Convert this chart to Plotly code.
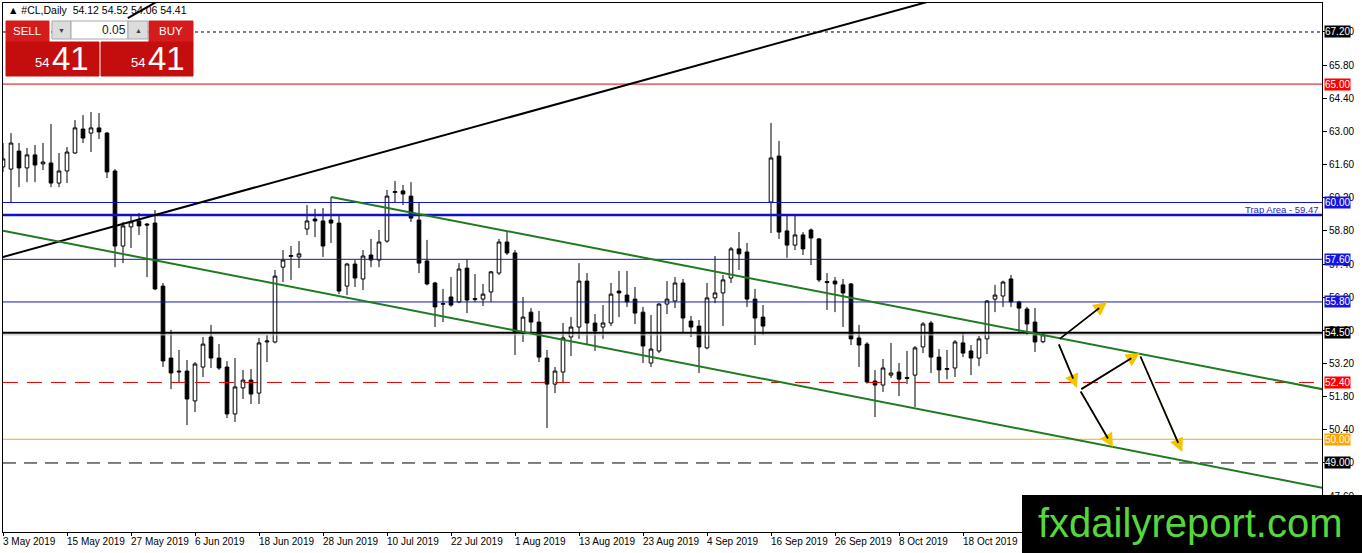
import plotly.graph_objects as go

# daily bars of #CL from 3 May 2019 (one slot per trading day)
opens = [61.50, 61.41, 62.17, 61.46, 62.01, 61.63, 61.67, 60.82, 61.33, 62.09,
         63.10, 62.93, 63.15, 62.93, 61.33, 58.16, 58.97, 59.22, 59.09, 59.13,
         56.47, 53.43, 52.88, 52.88, 51.62, 53.05, 54.32, 53.43, 53.05, 51.07,
         52.17, 52.50, 51.95, 54.11, 54.11, 57.27, 57.72, 57.70, 58.88, 59.30,
         59.22, 59.26, 59.13, 56.47, 57.40, 56.77, 57.78, 57.57, 58.37, 60.42,
         60.49, 60.27, 59.26, 57.53, 56.60, 55.70, 56.01, 55.80, 57.23, 55.90,
         55.92, 56.22, 57.02, 58.33, 57.87, 54.49, 55.37, 54.95, 53.43, 52.33,
         52.84, 54.32, 54.74, 56.68, 54.91, 54.74, 54.91, 56.26, 56.09, 55.92,
         55.37, 53.22, 53.73, 55.71, 55.84, 56.60, 54.99, 54.78, 53.86, 55.97,
         56.18, 56.81, 58.04, 57.91, 55.92, 55.16, 60.02, 61.96, 58.80, 58.20,
         58.63, 58.84, 58.46, 56.66, 56.68, 56.52, 56.56, 54.28, 54.02, 52.46,
         52.29, 52.71, 52.84, 52.61, 52.71, 53.90, 54.91, 53.47, 52.95, 53.01,
         54.07, 53.73, 53.43, 54.24, 55.92, 56.05, 56.77, 55.80, 55.50, 54.95,
         54.12]
highs = [62.51, 62.93, 62.51, 62.30, 62.43, 62.51, 63.31, 62.09, 62.34, 63.48,
         63.69, 63.82, 63.78, 62.98, 61.41, 59.18, 59.47, 59.56, 59.13, 59.68,
         56.60, 54.62, 53.77, 53.35, 53.26, 54.32, 54.83, 54.02, 53.30, 53.43,
         52.93, 52.97, 54.28, 54.40, 57.15, 57.99, 58.16, 58.37, 59.89, 59.73,
         59.77, 60.23, 59.47, 57.45, 57.57, 57.99, 58.46, 58.84, 60.53, 60.91,
         60.74, 60.86, 60.02, 58.42, 56.65, 56.35, 56.85, 57.44, 57.61, 56.98,
         56.56, 57.11, 58.46, 58.75, 57.99, 56.01, 55.54, 55.42, 53.77, 53.05,
         54.91, 55.16, 57.44, 57.02, 55.29, 55.67, 56.60, 57.11, 57.11, 56.43,
         55.59, 55.25, 55.75, 56.68, 56.85, 56.77, 55.21, 55.04, 56.60, 57.74,
         56.94, 58.12, 58.75, 58.29, 56.35, 55.67, 63.36, 62.60, 59.43, 59.43,
         58.75, 58.90, 58.50, 57.02, 56.85, 56.77, 56.60, 54.83, 54.10, 52.93,
         53.39, 54.07, 53.22, 53.73, 53.94, 54.95, 55.00, 53.81, 53.77, 54.19,
         54.53, 53.98, 54.36, 55.88, 56.52, 56.70, 56.94, 55.85, 55.59, 55.54,
         54.52]
lows = [61.29, 60.02, 60.65, 60.86, 60.86, 61.37, 60.65, 60.65, 60.82, 62.05,
        62.51, 62.13, 62.68, 61.03, 57.27, 57.44, 58.08, 58.63, 56.85, 56.30,
        53.05, 52.12, 52.42, 50.60, 51.15, 52.63, 53.01, 52.93, 50.90, 50.73,
        51.70, 51.49, 51.49, 53.26, 54.05, 56.64, 56.73, 57.23, 58.63, 58.54,
        57.70, 58.29, 56.13, 56.09, 56.43, 56.30, 57.27, 57.27, 58.30, 59.98,
        59.89, 59.18, 57.02, 56.50, 54.74, 54.95, 55.60, 55.75, 55.33, 55.80,
        55.63, 55.80, 56.94, 57.78, 53.56, 54.11, 54.49, 53.26, 50.48, 51.95,
        52.37, 53.52, 54.24, 54.02, 53.73, 54.24, 54.78, 55.16, 55.59, 54.87,
        53.22, 53.05, 53.64, 55.29, 55.54, 54.49, 54.32, 52.80, 53.80, 55.75,
        54.78, 56.60, 57.15, 55.59, 53.98, 54.40, 58.71, 58.46, 57.66, 57.99,
        57.78, 57.36, 56.64, 55.46, 55.37, 54.74, 53.98, 53.05, 52.35, 50.94,
        52.00, 52.59, 51.83, 52.33, 51.36, 53.64, 52.80, 52.37, 52.54, 52.63,
        53.47, 52.71, 53.09, 53.60, 55.37, 55.59, 55.59, 54.53, 54.40, 53.69,
        54.06]
closes = [61.84, 62.51, 61.46, 62.01, 61.58, 61.71, 60.82, 61.33, 62.13, 63.15,
          62.72, 63.15, 62.98, 61.29, 58.16, 59.01, 59.18, 59.01, 59.05, 56.35,
          53.31, 52.80, 52.85, 51.70, 53.18, 54.02, 53.43, 53.01, 51.07, 52.21,
          52.50, 51.91, 54.07, 54.15, 56.89, 57.57, 57.76, 57.83, 59.22, 59.22,
          58.16, 59.13, 56.26, 57.40, 56.81, 57.74, 57.57, 58.33, 60.27, 60.46,
          60.36, 59.34, 57.44, 56.56, 55.59, 55.73, 55.67, 57.19, 55.88, 55.94,
          56.13, 57.07, 58.33, 57.87, 54.53, 55.16, 54.95, 53.47, 52.33, 52.88,
          54.28, 54.74, 56.68, 54.91, 54.57, 54.91, 56.13, 56.18, 55.80, 55.33,
          53.94, 53.81, 55.71, 55.92, 56.60, 55.12, 54.74, 53.90, 55.97, 56.18,
          56.73, 58.04, 57.83, 55.92, 55.12, 54.78, 61.88, 58.75, 58.20, 58.63,
          58.04, 58.50, 56.73, 56.62, 56.56, 56.18, 54.24, 53.98, 52.42, 52.29,
          53.01, 52.80, 52.54, 52.57, 53.86, 54.87, 53.47, 52.93, 52.99, 54.11,
          53.64, 53.43, 54.24, 55.84, 56.09, 56.64, 55.80, 55.54, 54.87, 54.11,
          54.41]
bar_x = list(range(len(opens)))

date_ticks = [0, 8, 16, 24, 32, 40, 48, 56, 64, 72, 80, 88, 96, 104, 112, 120, 128]
date_labels = ["3 May 2019", "15 May 2019", "27 May 2019", "6 Jun 2019", "18 Jun 2019",
               "28 Jun 2019", "10 Jul 2019", "22 Jul 2019", "1 Aug 2019", "13 Aug 2019",
               "23 Aug 2019", "4 Sep 2019", "16 Sep 2019", "26 Sep 2019", "8 Oct 2019",
               "18 Oct 2019"]

price_ticks = [47.60, 49.00, 50.40, 51.80, 53.20, 54.60, 56.00, 57.40, 58.80,
               60.20, 61.60, 63.00, 64.40, 65.80, 67.20]

# horizontal levels drawn across the chart
levels = [67.20, 65.00, 60.00, 59.47, 57.60, 55.80, 54.50, 54.41, 52.40, 50.00, 49.00]
level_colors = ["black", "#E00000", "#1010C8", "#1010D0", "#1010C8", "#1010C8",
                "black", "#C0C0C0", "#E00000", "#F2B000", "black"]
level_widths = [1, 1, 1, 2.5, 1, 1, 2, 1, 1, 1, 1]
level_dash = ["3px,3px", "solid", "solid", "solid", "solid", "solid",
              "solid", "solid", "15px,9px", "solid", "13px,8px"]

# coloured price tags on the right axis
tag_values = [67.20, 65.00, 60.00, 57.60, 55.80, 54.50, 52.40, 50.00, 49.00]
tag_colors = ["black", "#FF0000", "#1515E0", "#1515E0", "#1515E0", "black",
              "#FF0000", "#FFA500", "black"]

# trend lines: (bar index, price)
black_trend_x = [0, 125]
black_trend_y = [57.70, 69.35]
black_short_x = [15.6, 19.6]
black_short_y = [67.79, 68.55]
green_upper_x = [41, 165]
green_upper_y = [60.23, 52.11]
green_lower_x = [0, 165]
green_lower_y = [58.81, 47.95]

# scenario arrows
arrow_tail_x = [131.9, 131.9, 134.6, 134.6, 142.1]
arrow_tail_y = [54.19, 54.07, 52.08, 52.08, 53.56]
arrow_tip_x = [138.0, 134.25, 142.1, 138.75, 147.4]
arrow_tip_y = [55.80, 52.17, 53.64, 49.67, 49.46]

FONT = "Liberation Sans"
W, H = 1362, 553
ML, MR, MT, MB = 3, 40, 3, 21
PW, PH = W - ML - MR, H - MT - MB


def pxx(x):
    return (x - ML) / PW


def pxy(y):
    return (H - MB - y) / PH


fig = go.Figure()
fig.add_trace(go.Candlestick(
    x=bar_x, open=opens, high=highs, low=lows, close=closes,
    increasing=dict(line=dict(color="black", width=1), fillcolor="white"),
    decreasing=dict(line=dict(color="black", width=1), fillcolor="black"),
    whiskerwidth=0, hoverinfo="skip", showlegend=False,
))

shapes = []
for v, c, w, d in zip(levels, level_colors, level_widths, level_dash):
    shapes.append(dict(type="line", xref="paper", yref="y", x0=0, x1=1, y0=v, y1=v,
                       line=dict(color=c, width=w, dash=d), layer="above"))

for xs, ys, c in [(black_trend_x, black_trend_y, "black"),
                  (black_short_x, black_short_y, "black"),
                  (green_upper_x, green_upper_y, "#1E7B1E"),
                  (green_lower_x, green_lower_y, "#1E7B1E")]:
    shapes.append(dict(type="line", xref="x", yref="y", x0=xs[0], x1=xs[1],
                       y0=ys[0], y1=ys[1], line=dict(color=c, width=2), layer="above"))

# watermark box
shapes.append(dict(type="rect", xref="paper", yref="paper", x0=pxx(1022), x1=pxx(1362),
                   y0=pxy(553), y1=pxy(495), fillcolor="black", line=dict(width=0),
                   layer="above"))

# one-click trading panel
panel = [
    (6, 21, 49, 42, "#D51C1C", "#D51C1C"),
    (149, 21, 193, 42, "#D51C1C", "#D51C1C"),
    (6, 42, 99, 76, "#C40E0E", "#C40E0E"),
    (101, 42, 193, 76, "#C40E0E", "#C40E0E"),
    (52, 21, 71, 39, "#DCDCDC", "#A8A8A8"),
    (71, 21, 128, 39, "white", "#A8A8A8"),
    (128, 21, 148, 39, "#DCDCDC", "#A8A8A8"),
]
for x0, y0, x1, y1, fc, lc in panel:
    shapes.append(dict(type="rect", xref="paper", yref="paper", x0=pxx(x0), x1=pxx(x1),
                       y0=pxy(y1), y1=pxy(y0), fillcolor=fc, line=dict(color=lc, width=1),
                       layer="above"))

ann = []
for v, c in zip(tag_values, tag_colors):
    ann.append(dict(xref="paper", yref="y", x=1, y=v, xanchor="left", yanchor="middle",
                    xshift=2, text=f"{v:.2f}", showarrow=False, bgcolor=c, borderpad=0,
                    font=dict(family=FONT, size=10, color="white")))

ann.append(dict(xref="paper", yref="y", x=1, y=59.47, xanchor="right", yanchor="bottom",
                xshift=-1, yshift=-2, text="Trap Area - 59.47", showarrow=False,
                font=dict(family=FONT, size=9.5, color="#2828B8")))

for pos, lab in zip(date_ticks, date_labels):
    ann.append(dict(xref="x", yref="paper", x=pos, y=0, xanchor="left", yanchor="top",
                    xshift=-2, yshift=-2, text=lab, showarrow=False,
                    font=dict(family=FONT, size=10, color="black")))

# arrows: yellow head first, black shaft drawn over it
for tx, ty, hx, hy in zip(arrow_tail_x, arrow_tail_y, arrow_tip_x, arrow_tip_y):
    ann.append(dict(xref="x", yref="y", axref="x", ayref="y", x=hx, y=hy, ax=tx, ay=ty,
                    text="", showarrow=True, arrowhead=2, arrowsize=2.3, arrowwidth=1.2,
                    arrowcolor="#F5C400"))
for tx, ty, hx, hy in zip(arrow_tail_x, arrow_tail_y, arrow_tip_x, arrow_tip_y):
    ann.append(dict(xref="x", yref="y", axref="x", ayref="y", x=hx, y=hy, ax=tx, ay=ty,
                    text="", showarrow=True, arrowhead=0, arrowwidth=1.8, standoff=10,
                    arrowcolor="black"))

ann.append(dict(xref="paper", yref="paper", x=pxx(6), y=pxy(10), xanchor="left",
                yanchor="middle", text="\u25b2 #CL,Daily  54.12 54.52 54.06 54.41",
                showarrow=False, font=dict(family=FONT, size=10.5, color="black")))

panel_text = [
    ("SELL", 27, 31, "center", 11.5, "white"),
    ("BUY", 171, 31, "center", 11.5, "white"),
    ("\u25bc", 61, 30, "center", 7, "#404040"),
    ("\u25b2", 138, 30, "center", 7, "#404040"),
    ("0.05", 127, 30, "right", 12, "#202020"),
    ("54", 50, 63, "right", 13, "white"),
    ("41", 51, 58, "left", 33, "white"),
    ("54", 146, 63, "right", 13, "white"),
    ("41", 147, 58, "left", 33, "white"),
]
for t, x, y, xa, s, c in panel_text:
    ann.append(dict(xref="paper", yref="paper", x=pxx(x), y=pxy(y), xanchor=xa,
                    yanchor="middle", text=t, showarrow=False, borderpad=0,
                    font=dict(family=FONT, size=s, color=c)))

ann.append(dict(xref="paper", yref="paper", x=pxx(1190), y=pxy(523), xanchor="center",
                yanchor="middle", text="fxdailyreport.com", showarrow=False,
                font=dict(family=FONT, size=40, color="#55D83B")))

fig.update_layout(
    width=W, height=H,
    margin=dict(l=ML, r=MR, t=MT, b=MB),
    paper_bgcolor="white", plot_bgcolor="white",
    boxgap=0.35,
    showlegend=False,
    shapes=shapes,
    annotations=ann,
    xaxis=dict(range=[0, PW / 8], showgrid=False, zeroline=False, showline=True,
               linecolor="black", linewidth=1, mirror=True, ticks="outside", ticklen=3,
               tickcolor="black", tickvals=date_ticks, showticklabels=False,
               rangeslider=dict(visible=False), fixedrange=True),
    yaxis=dict(side="right", range=[46.085, 68.424], showgrid=False, zeroline=False,
               showline=True, linecolor="black", linewidth=1, mirror=True,
               ticks="outside", ticklen=4, tickcolor="black", tickvals=price_ticks,
               ticktext=[f"{v:.2f}" for v in price_ticks],
               tickfont=dict(family=FONT, size=10, color="black"), fixedrange=True),
)

# page body has a default margin; drop it so the chart sits at the window corner
fig.write_html("out.html", config={"displayModeBar": False},
               post_script="document.body.style.margin='0';document.body.style.overflow='hidden';")
